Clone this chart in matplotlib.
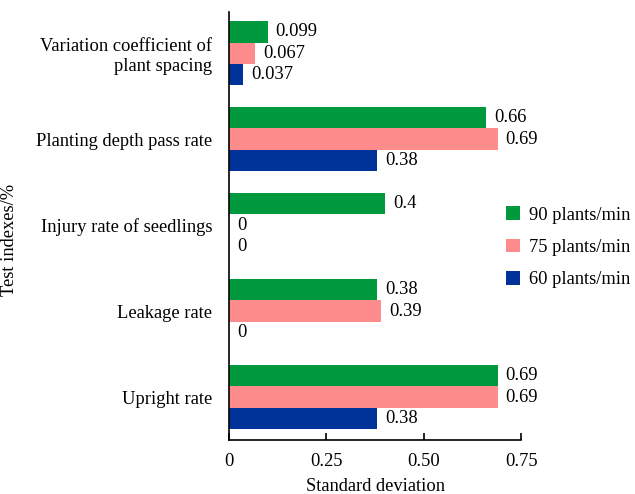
import matplotlib
matplotlib.use("Agg")
import matplotlib.pyplot as plt
import numpy as np

plt.rcParams['font.family'] = ['Liberation Serif', 'DejaVu Serif']
plt.rcParams['font.size'] = 13.3

categories = ["Upright rate", "Leakage rate", "Injury rate of seedlings",
              "Planting depth pass rate", "Variation coefficient of\nplant spacing"]
series_names = ["90 plants/min", "75 plants/min", "60 plants/min"]
v90 = [0.69, 0.38, 0.4, 0.66, 0.099]
v75 = [0.69, 0.39, 0, 0.69, 0.067]
v60 = [0.38, 0, 0, 0.38, 0.037]
labels90 = ["0.69", "0.38", "0.4", "0.66", "0.099"]
labels75 = ["0.69", "0.39", "0", "0.69", "0.067"]
labels60 = ["0.38", "0", "0", "0.38", "0.037"]
xticks = [0, 0.25, 0.5, 0.75]
xticklabels = ["0", "0.25", "0.50", "0.75"]
colors = ["#00993D", "#FF8C8C", "#003399"]

fig = plt.figure(figsize=(6.35, 4.94), dpi=100)
ax = fig.add_axes([0.3606, 0.1093, 0.46, 0.8664])

y = np.arange(len(categories))
h = 0.25
offsets = [h, 0, -h]
for vals, labs, off, col, name in zip([v90, v75, v60], [labels90, labels75, labels60],
                                      offsets, colors, series_names):
    bars = ax.barh(y + off, vals, height=h, color=col, label=name)
    for b, lab in zip(bars, labs):
        ax.annotate(lab, (b.get_width(), b.get_y() + b.get_height() / 2),
                    xytext=(8, 0), textcoords='offset pixels',
                    ha='left', va='center')

ax.set_xlim(0, 0.75)
ax.set_ylim(-0.5, 4.48)
ax.set_xticks(xticks)
ax.set_xticklabels(xticklabels)
ax.set_yticks(y)
ax.set_yticklabels(categories, ha='right', multialignment='right')
ax.tick_params(axis='y', length=0, pad=12)
ax.tick_params(axis='x', direction='in', length=5, width=1.2, pad=9)
for s in ['top', 'right']:
    ax.spines[s].set_visible(False)
for s in ['left', 'bottom']:
    ax.spines[s].set_linewidth(1.2)
ax.set_xlabel("Standard deviation", labelpad=6)
ax.set_ylabel("Test indexes/%")
ax.yaxis.set_label_coords(0.028, 0.515, transform=fig.transFigure)

leg = ax.legend(loc='center left', bbox_to_anchor=(0.893, 0.45), frameon=False,
                handlelength=0.75, handleheight=0.75, handletextpad=0.45,
                labelspacing=0.82)

fig.savefig("out.png", dpi=100)
